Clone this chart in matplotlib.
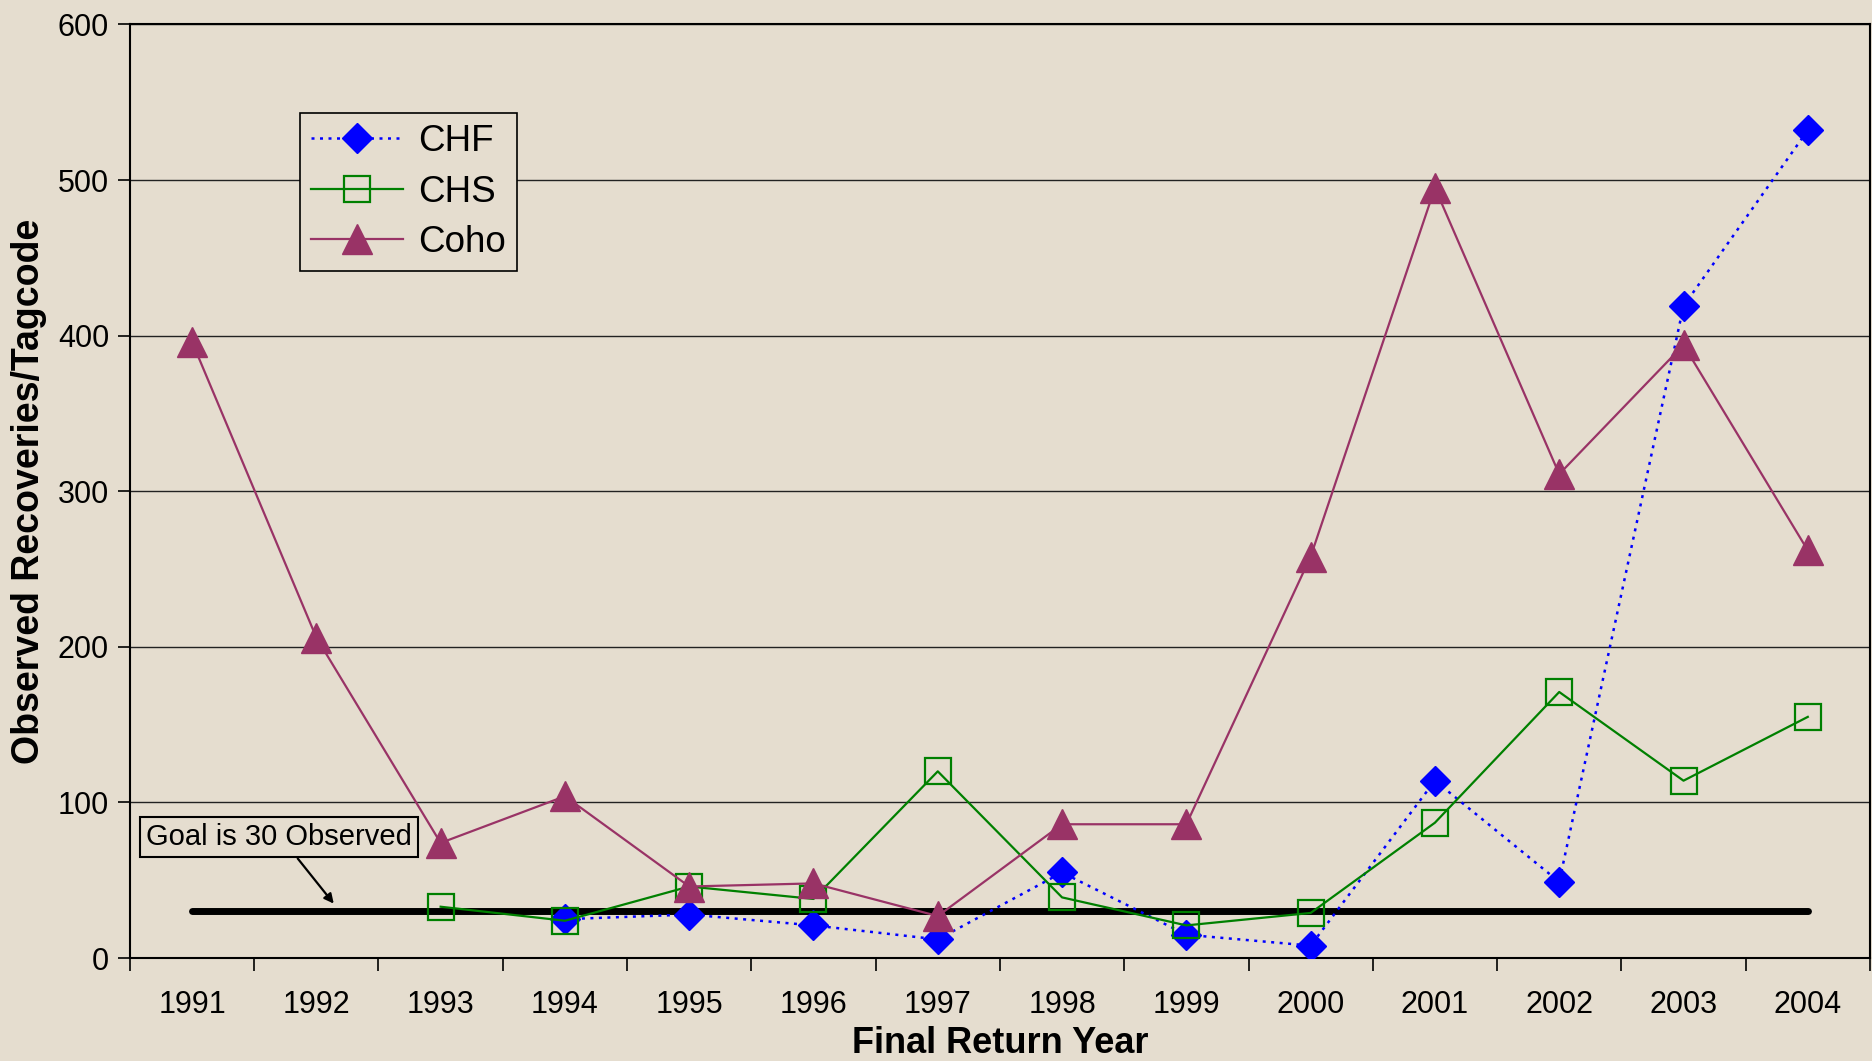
import numpy as np
import matplotlib
matplotlib.use("Agg")
import matplotlib.pyplot as plt

plt.rcParams['font.family'] = ['Liberation Sans', 'DejaVu Sans']

# data
years = ['1991', '1992', '1993', '1994', '1995', '1996', '1997',
         '1998', '1999', '2000', '2001', '2002', '2003', '2004']
chf = [np.nan, np.nan, np.nan, 25, 28, 21, 12, 55, 15, 8, 114, 49, 419, 532]
chs = [np.nan, np.nan, 33, 24, 46, 38, 120, 39, 21, 29, 87, 171, 114, 155]
coho = [396, 206, 74, 104, 46, 48, 27, 86, 86, 258, 495, 311, 394, 262]
goal = 30

bg = '#E5DDCF'
x = np.arange(len(years))

fig = plt.figure(figsize=(18.72, 10.61), dpi=100, facecolor=bg)
ax = fig.add_axes([0.0694, 0.097, 0.9295, 0.880])
ax.set_facecolor(bg)

# grid
ax.set_ylim(0, 600)
ax.set_xlim(-0.5, len(years) - 0.5)
ax.set_yticks(range(0, 601, 100))
ax.yaxis.grid(True, color='#222222', lw=1.0)
ax.set_axisbelow(True)

# goal line
ax.plot([x[0], x[-1]], [goal, goal], color='black', lw=5, solid_capstyle='round', zorder=2.5)

ax.plot(x, chf, color='#0000FF', ls=(0, (1.2, 2.2)), lw=1.8, marker='D', ms=15.5,
        mfc='#0000FF', mec='#0000FF', label='CHF', zorder=3)
ax.plot(x, chs, color='#008000', lw=1.6, marker='s', ms=18.5, mfc='none',
        mec='#008000', mew=1.6, label='CHS', zorder=3)
ax.plot(x, coho, color='#993366', lw=1.6, marker='^', ms=21, mfc='#993366',
        mec='#993366', label='Coho', zorder=3)

# ticks
ax.set_xticks(x)
ax.set_xticklabels(years, fontsize=22)
ax.set_xticks(np.arange(-0.5, len(years), 1), minor=True)
ax.tick_params(axis='x', which='major', length=0, pad=23)
ax.tick_params(axis='x', which='minor', length=9, width=1.2, direction='out')
ax.tick_params(axis='y', labelsize=22, length=9, width=1.2, direction='out', pad=6)

for s in ax.spines.values():
    s.set_linewidth(1.5)
    s.set_color('black')

ax.set_xlabel('Final Return Year', fontsize=26, fontweight='bold', labelpad=4)
ax.set_ylabel('Observed Recoveries/Tagcode', fontsize=27, fontweight='bold', labelpad=8)

leg = ax.legend(loc='upper left', bbox_to_anchor=(0.0975, 0.905), fontsize=26.5,
                frameon=True, fancybox=False, handlelength=2.5, handletextpad=0.42,
                labelspacing=0.42, borderpad=0.3, borderaxespad=0)
leg.get_frame().set_edgecolor('black')
leg.get_frame().set_facecolor(bg)
leg.get_frame().set_linewidth(1.2)
leg.get_frame().set_alpha(1)

ax.text(0.70, 78, 'Goal is 30 Observed', fontsize=21, ha='center', va='center',
        bbox=dict(boxstyle='square,pad=0.2', fc='none', ec='black', lw=1.5))
ax.annotate('', xy=(1.14, 35), xytext=(0.85, 64),
            arrowprops=dict(arrowstyle='-|>', color='black', lw=1.6,
                            mutation_scale=14, shrinkA=0, shrinkB=0))

plt.savefig('out.png', dpi=100, facecolor=bg)
